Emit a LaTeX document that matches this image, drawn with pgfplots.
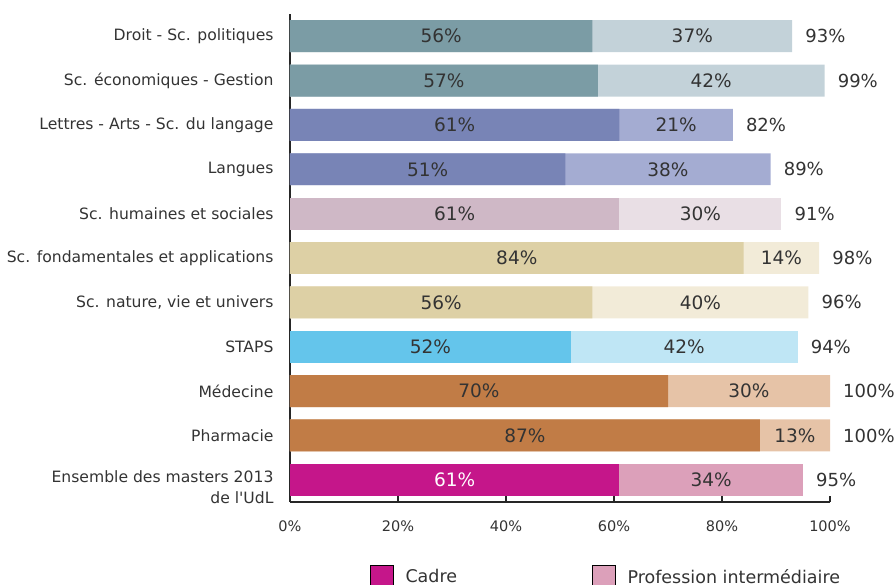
\documentclass[border=0pt]{standalone}
\usepackage{fontspec}
\setmainfont{DejaVu Sans}
\usepackage{pgfplots}
\pgfplotsset{compat=1.18}

\definecolor{txt}{HTML}{333333}
\definecolor{tealD}{HTML}{7B9CA5}\definecolor{tealL}{HTML}{C3D2D9}
\definecolor{blueD}{HTML}{7884B6}\definecolor{blueL}{HTML}{A4ACD2}
\definecolor{mauveD}{HTML}{CFB8C6}\definecolor{mauveL}{HTML}{E9DFE5}
\definecolor{beigeD}{HTML}{DDD0A5}\definecolor{beigeL}{HTML}{F2EBD8}
\definecolor{cyanD}{HTML}{64C5EB}\definecolor{cyanL}{HTML}{BFE6F5}
\definecolor{orangeD}{HTML}{C17C46}\definecolor{orangeL}{HTML}{E6C3A7}
\definecolor{magD}{HTML}{C5168A}\definecolor{magL}{HTML}{DCA0BA}

\pgfplotsset{
  seg/.style={xbar, bar width=0.72, bar shift=0pt, draw=none, fill=#1, forget plot},
  lab/.style={draw=none, mark=none, forget plot, nodes near coords,
    point meta=explicit symbolic,
    every node near coord/.style={anchor=center, text=#1, inner sep=0pt,
      font=\fontsize{18.5}{22}\selectfont}},
  tot/.style={draw=none, mark=none, forget plot, nodes near coords,
    point meta=explicit symbolic,
    every node near coord/.style={anchor=west, text=txt, inner sep=0pt, xshift=13pt,
      font=\fontsize{18}{22}\selectfont}},
}

\begin{document}
\begin{tikzpicture}[font=\fontsize{15.6}{21}\selectfont]
\begin{axis}[
  name=ax,
  scale only axis, width=540pt, height=488pt,
  xmin=0, xmax=100, ymin=-0.5, ymax=10.5,
  axis lines*=left,
  axis line style={-, line width=1.6pt, color=black!85},
  xtick={0,20,...,100},
  xticklabels={0\%,20\%,40\%,60\%,80\%,100\%},
  xtick align=inside, major tick length=6pt,
  x tick style={line width=1.6pt, color=black!85},
  xticklabel style={text=txt, yshift=-15pt, font=\fontsize{14.5}{17}\selectfont},
  ytick={0,...,10},
  yticklabels={{\raisebox{-13pt}[0pt][0pt]{\begin{tabular}{@{}r@{}}Ensemble des masters 2013\\de l\textquotesingle UdL\end{tabular}}},
    Pharmacie,Médecine,STAPS,
    {Sc. nature, vie et univers},Sc. fondamentales et applications,Sc. humaines et sociales,
    Langues,Lettres - Arts - Sc. du langage,Sc. économiques - Gestion,Droit - Sc. politiques},
  y tick style={draw=none},
  yticklabel style={align=right, text=txt, xshift=-13pt, font=\fontsize{15.6}{21}\selectfont},
  legend style={at={(0.148,-0.129)}, anchor=north west, draw=none, fill=none,
    inner sep=0pt, legend columns=2, text=txt, font=\fontsize{17.5}{20}\selectfont,
    /tikz/every odd column/.append style={column sep=10pt},
    /tikz/every even column/.append style={column sep=133pt}},
  legend cell align=left,
  legend image code/.code={\fill[#1] (0pt,-11.5pt) rectangle (23pt,11.5pt);},
]
% totals (light) first, then cadre (dark) on top
\addplot[seg=tealL] coordinates {(93,10) (99,9)};
\addplot[seg=tealD] coordinates {(56,10) (57,9)};
\addplot[seg=blueL] coordinates {(82,8) (89,7)};
\addplot[seg=blueD] coordinates {(61,8) (51,7)};
\addplot[seg=mauveL] coordinates {(91,6)};
\addplot[seg=mauveD] coordinates {(61,6)};
\addplot[seg=beigeL] coordinates {(98,5) (96,4)};
\addplot[seg=beigeD] coordinates {(84,5) (56,4)};
\addplot[seg=cyanL] coordinates {(94,3)};
\addplot[seg=cyanD] coordinates {(52,3)};
\addplot[seg=orangeL] coordinates {(100,2) (100,1)};
\addplot[seg=orangeD] coordinates {(70,2) (87,1)};
\addplot[seg=magL] coordinates {(95,0)};
\addplot[seg=magD] coordinates {(61,0)};

% cadre labels
\addplot[lab=txt] coordinates {(28,10)[56\%] (28.5,9)[57\%] (30.5,8)[61\%] (25.5,7)[51\%]
  (30.5,6)[61\%] (42,5)[84\%] (28,4)[56\%] (26,3)[52\%] (35,2)[70\%] (43.5,1)[87\%]};
\addplot[lab=white] coordinates {(30.5,0)[61\%]};
% profession labels
\addplot[lab=txt] coordinates {(74.5,10)[37\%] (78,9)[42\%] (71.5,8)[21\%] (70,7)[38\%]
  (76,6)[30\%] (91,5)[14\%] (76,4)[40\%] (73,3)[42\%] (85,2)[30\%] (93.5,1)[13\%] (78,0)[34\%]};
% totals
\addplot[tot] coordinates {(93,10)[93\%] (99,9)[99\%] (82,8)[82\%] (89,7)[89\%]
  (91,6)[91\%] (98,5)[98\%] (96,4)[96\%] (94,3)[94\%] (100,2)[100\%] (100,1)[100\%] (95,0)[95\%]};

\addlegendimage{fill=magD}
\addlegendentry{Cadre}
\addlegendimage{fill=magL}
\addlegendentry{Profession intermédiaire}
\end{axis}
\pgfresetboundingbox
\path ([xshift=-290pt,yshift=-83pt]ax.south west) rectangle ([xshift=66pt,yshift=14pt]ax.north east);
\end{tikzpicture}
\end{document}
